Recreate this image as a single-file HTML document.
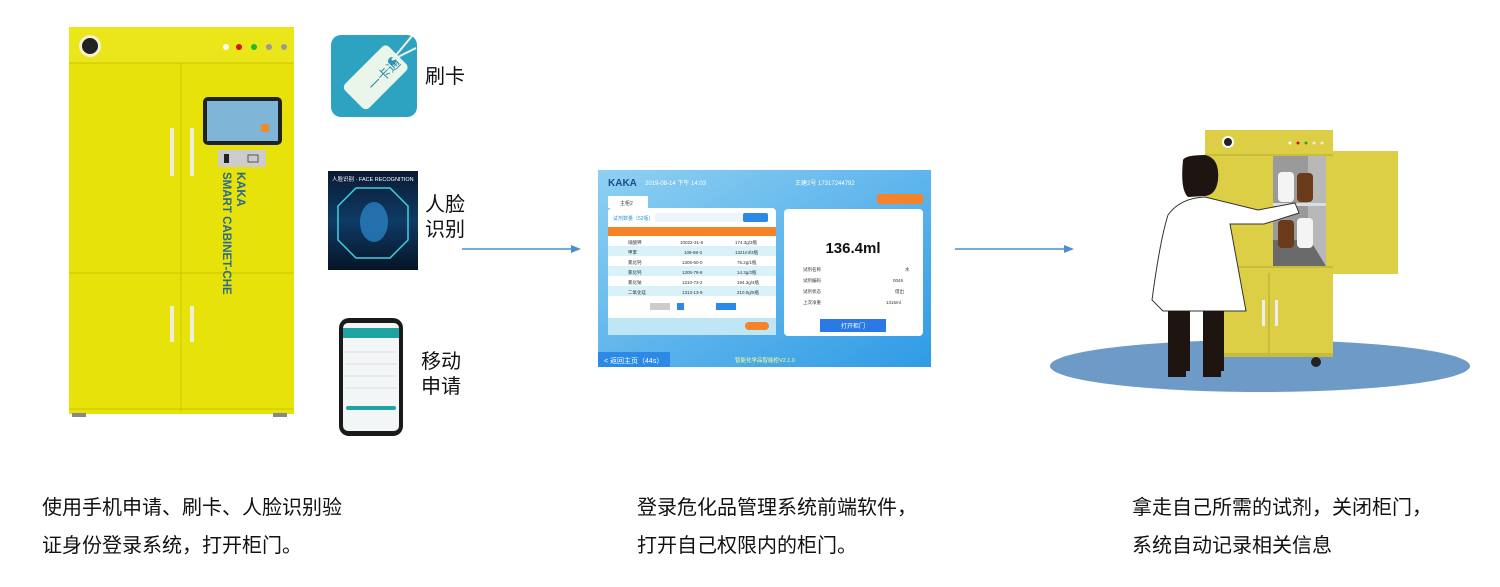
<!DOCTYPE html>
<html><head><meta charset="utf-8"><style>
body{margin:0;width:1500px;height:587px;background:#fff;overflow:hidden;position:relative;font-family:"Liberation Sans","Noto Sans CJK SC",sans-serif}
.t{position:absolute;font-size:20px;color:#111;line-height:38px;white-space:nowrap}
.l{position:absolute;font-size:20px;color:#111;line-height:25px}
</style></head><body>
<svg width="1500" height="587" style="position:absolute;left:0;top:0">
<defs>
<linearGradient id="sb" x1="0" y1="0" x2="1" y2="1"><stop offset="0" stop-color="#8fd0f2"/><stop offset="1" stop-color="#2f9be6"/></linearGradient>
<linearGradient id="fc" x1="0" y1="0" x2="0" y2="1"><stop offset="0" stop-color="#0a1a33"/><stop offset=".5" stop-color="#0f3b66"/><stop offset="1" stop-color="#061426"/></linearGradient>
</defs>
<rect x="69" y="27" width="225" height="387" fill="#e6e20a"/>
<rect x="69" y="27" width="225" height="36" fill="#ebe61a"/>
<line x1="69" y1="63" x2="294" y2="63" stroke="#c9c400"/>
<line x1="181" y1="63" x2="181" y2="412" stroke="#c9c400"/>
<line x1="69" y1="273" x2="294" y2="273" stroke="#c9c400"/>
<line x1="69" y1="409" x2="294" y2="409" stroke="#c9c400"/>
<circle cx="90" cy="46" r="11" fill="#f4f1d0"/><circle cx="90" cy="46" r="8" fill="#222"/>
<circle cx="226" cy="47" r="3" fill="#fff"/><circle cx="239" cy="47" r="3" fill="#d11"/><circle cx="254" cy="47" r="3" fill="#2b2"/><circle cx="269" cy="47" r="3" fill="#999"/><circle cx="284" cy="47" r="3" fill="#999"/>
<rect x="170" y="128" width="4" height="48" fill="#f1eed6"/><rect x="190" y="128" width="4" height="48" fill="#f1eed6"/>
<rect x="170" y="306" width="4" height="36" fill="#f1eed6"/><rect x="190" y="306" width="4" height="36" fill="#f1eed6"/>
<rect x="203" y="97" width="79" height="48" rx="5" fill="#222"/><rect x="207" y="101" width="71" height="40" fill="#7fb6d8"/><rect x="261" y="124" width="8" height="8" fill="#f08a2a"/>
<rect x="218" y="150" width="48" height="17" fill="#ccc"/><rect x="224" y="154" width="5" height="9" fill="#222"/><rect x="248" y="155" width="10" height="7" fill="none" stroke="#555"/>
<text x="0" y="0" transform="translate(223,172) rotate(90)" font-size="11.5" font-weight="bold" fill="#2a6a8a" font-family="Liberation Sans">SMART CABINET-CHE</text>
<text x="0" y="0" transform="translate(237,172) rotate(90)" font-size="12" font-weight="bold" fill="#2a6a8a" font-family="Liberation Sans">KAKA</text>
<rect x="72" y="413" width="14" height="4" fill="#888"/><rect x="273" y="413" width="14" height="4" fill="#888"/>
<rect x="331" y="35" width="86" height="82" rx="10" fill="#2ea3c1"/>
<g transform="translate(375,78) rotate(-45)"><rect x="-30" y="-17" width="62" height="34" rx="5" fill="#eaf6ea"/><circle cx="24" cy="0" r="4" fill="#2ea3c1"/></g>
<text x="364" y="92" transform="rotate(-45 368 80)" font-size="13" fill="#2a8aa6">一卡通</text>
<line x1="392" y1="60" x2="412" y2="36" stroke="#eaf6ea" stroke-width="2"/><line x1="392" y1="60" x2="416" y2="48" stroke="#eaf6ea" stroke-width="2"/>
<rect x="328" y="171" width="90" height="99" fill="url(#fc)"/>
<text x="332" y="181" font-size="5.5" fill="#fff">人脸识别 · FACE RECOGNITION</text>
<polygon points="356,188 390,188 408,206 408,240 390,258 356,258 338,240 338,206" fill="none" stroke="#3fd0e0" stroke-width="1.5"/>
<ellipse cx="374" cy="222" rx="14" ry="20" fill="#2a7fc0" opacity=".8"/>
<rect x="339" y="318" width="64" height="118" rx="10" fill="#1a1a1a"/>
<rect x="343" y="323" width="56" height="108" rx="5" fill="#f3f6f6"/>
<rect x="343" y="328" width="56" height="10" fill="#1fa3a0"/>
<rect x="346" y="406" width="50" height="4" rx="2" fill="#1fa3a0"/>
<g stroke="#ddd"><line x1="345" y1="352" x2="397" y2="352"/><line x1="345" y1="364" x2="397" y2="364"/><line x1="345" y1="376" x2="397" y2="376"/><line x1="345" y1="388" x2="397" y2="388"/></g>
<line x1="462" y1="249" x2="574" y2="249" stroke="#4a8fd0" stroke-width="1.5"/><polygon points="581,249 571,245 571,253" fill="#4a8fd0"/>
<line x1="955" y1="249" x2="1067" y2="249" stroke="#4a8fd0" stroke-width="1.5"/><polygon points="1074,249 1064,245 1064,253" fill="#4a8fd0"/>
<rect x="598" y="170" width="333" height="197" fill="url(#sb)"/>
<text x="608" y="186" font-size="10" font-weight="bold" fill="#1a4f8a">KAKA</text>
<text x="645" y="185" font-size="6" fill="#fff">2019-08-14 下午 14:03</text>
<text x="795" y="185" font-size="6" fill="#fff">王建2号   17317244792</text>
<rect x="877" y="194" width="46" height="10" rx="2" fill="#f5832a"/>
<rect x="608" y="196" width="40" height="12" fill="#fff"/><text x="620" y="205" font-size="5" fill="#333">主柜2</text>
<rect x="608" y="208" width="168" height="127" rx="4" fill="#fff"/>
<rect x="655" y="213" width="113" height="9" rx="2" fill="#eef5fa"/><rect x="743" y="213" width="25" height="9" rx="2" fill="#2a8ae6"/>
<text x="613" y="220" font-size="5" fill="#2a9ad6">试剂数量（52瓶）</text>
<rect x="608" y="227" width="168" height="9" fill="#f5832a"/>
<g fill="#d9f2fa"><rect x="608" y="246" width="168" height="10"/><rect x="608" y="266" width="168" height="10"/><rect x="608" y="286" width="168" height="10"/></g>
<g font-size="4.5" fill="#333"><text x="628" y="244">硝酸钾</text><text x="680" y="244">10022-31-8</text><text x="735" y="244">174.3g/3瓶</text>
<text x="628" y="254">甲苯</text><text x="684" y="254">108-88-3</text><text x="735" y="254">1321ml/3瓶</text>
<text x="628" y="264">氯化钙</text><text x="682" y="264">1305-60-0</text><text x="737" y="264">75.2g/1瓶</text>
<text x="628" y="274">氯化钙</text><text x="682" y="274">1305-78-8</text><text x="737" y="274">14.3g/2瓶</text>
<text x="628" y="284">氯化钠</text><text x="682" y="284">1310-73-2</text><text x="737" y="284">194.3g/4瓶</text>
<text x="628" y="294">二氧化硅</text><text x="682" y="294">1313-13-9</text><text x="737" y="294">210.0g/5瓶</text></g>
<rect x="650" y="303" width="20" height="7" fill="#ccc"/><rect x="677" y="303" width="7" height="7" fill="#2a8ae6"/><rect x="716" y="303" width="20" height="7" fill="#2a8ae6"/>
<rect x="608" y="318" width="168" height="17" fill="#bfe6f5"/><rect x="745" y="322" width="24" height="8" rx="4" fill="#f5832a"/>
<rect x="784" y="209" width="139" height="127" rx="4" fill="#fff"/>
<text x="853" y="253" font-size="15" font-weight="bold" fill="#111" text-anchor="middle">136.4ml</text>
<g font-size="4.5" fill="#333"><text x="803" y="271">试剂名称</text><text x="803" y="282">试剂编码</text><text x="803" y="293">试剂状态</text><text x="803" y="304">上次净重</text>
<text x="905" y="271">水</text><text x="893" y="282">0049</text><text x="895" y="293">借出</text><text x="886" y="304">1316ml</text></g>
<rect x="820" y="319" width="66" height="13" fill="#2a7ae6"/><text x="853" y="328" font-size="6" fill="#fff" text-anchor="middle">打开柜门</text>
<rect x="598" y="352" width="72" height="15" fill="#2a8ae6"/><text x="604" y="363" font-size="7" fill="#fff">&lt; 返回主页（44s）</text>
<text x="735" y="362" font-size="5.5" fill="#ff8">智能化学品智能柜V2.1.0</text>
<ellipse cx="1260" cy="366" rx="210" ry="26" fill="#6e9ac7"/>
<rect x="1205" y="130" width="128" height="225" fill="#dccf46"/>
<line x1="1205" y1="155" x2="1333" y2="155" stroke="#b5a830"/>
<line x1="1205" y1="267" x2="1333" y2="267" stroke="#b5a830"/>
<line x1="1269" y1="273" x2="1269" y2="355" stroke="#b5a830"/>
<rect x="1205" y="353" width="128" height="4" fill="#c7bb3a"/>
<circle cx="1228" cy="142" r="6" fill="#fff"/><circle cx="1228" cy="142" r="4" fill="#222"/>
<g><circle cx="1290" cy="143" r="1.5" fill="#fff"/><circle cx="1298" cy="143" r="1.5" fill="#c11"/><circle cx="1306" cy="143" r="1.5" fill="#2a2"/><circle cx="1314" cy="143" r="1.5" fill="#eee"/><circle cx="1322" cy="143" r="1.5" fill="#eee"/></g>
<rect x="1273" y="156" width="53" height="110" fill="#9a9a9a"/><rect x="1308" y="156" width="18" height="110" fill="#b8b8b8"/><polygon points="1273,240 1310,240 1326,266 1273,266" fill="#6a6a6a"/>
<rect x="1273" y="203" width="53" height="3" fill="#ddd"/>
<rect x="1333" y="151" width="65" height="123" fill="#dccf46"/>
<rect x="1278" y="172" width="16" height="30" rx="4" fill="#f4f4f4"/><rect x="1297" y="173" width="16" height="29" rx="4" fill="#6a3a1a"/>
<rect x="1278" y="220" width="16" height="28" rx="4" fill="#6a3a1a"/><rect x="1297" y="218" width="16" height="30" rx="4" fill="#f4f4f4"/>
<rect x="1262" y="300" width="3" height="26" fill="#eee"/><rect x="1275" y="300" width="3" height="26" fill="#eee"/>
<circle cx="1316" cy="362" r="5" fill="#222"/>
<path d="M1183,160 Q1185,155 1205,155 Q1220,158 1218,180 Q1216,195 1205,196 L1188,197 Q1180,190 1183,160Z" fill="#1e1410"/>
<path d="M1168,215 Q1180,198 1205,197 L1258,210 L1295,203 L1299,213 L1264,224 L1230,224 L1246,311 L1163,311 L1152,300 Q1160,240 1168,215Z" fill="#fff" stroke="#333"/>
<rect x="1168" y="311" width="22" height="60" fill="#1e1410"/><rect x="1203" y="311" width="21" height="60" fill="#1e1410"/>
<rect x="1168" y="370" width="18" height="7" fill="#1e1410"/><rect x="1203" y="370" width="18" height="7" fill="#1e1410"/>
</svg>
<div class="l" style="left:425px;top:65px">刷卡</div>
<div class="l" style="left:425px;top:193px">人脸<br>识别</div>
<div class="l" style="left:421px;top:350px">移动<br>申请</div>
<div class="t" style="left:42px;top:489px">使用手机申请、刷卡、人脸识别验<br>证身份登录系统，打开柜门。</div>
<div class="t" style="left:637px;top:489px">登录危化品管理系统前端软件，<br>打开自己权限内的柜门。</div>
<div class="t" style="left:1132px;top:489px">拿走自己所需的试剂，关闭柜门，<br>系统自动记录相关信息</div>
</body></html>
